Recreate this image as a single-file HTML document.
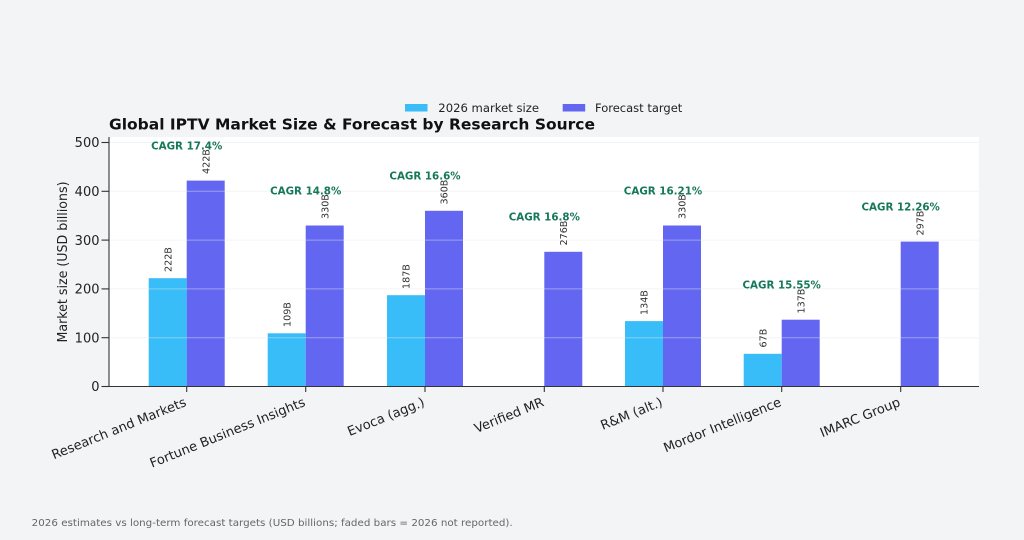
<!DOCTYPE html>
<html><head><meta charset="utf-8"><style>
html,body{margin:0;padding:0;background:#f3f4f6;}
svg{display:block;font-family:"DejaVu Sans","Liberation Sans",sans-serif;}
</style></head><body>
<svg width="1024" height="540" viewBox="0 0 1024 540" xmlns="http://www.w3.org/2000/svg">
<rect x="0" y="0" width="1024" height="540" fill="#f3f4f6"/>
<!-- plot panel -->
<rect x="109" y="137" width="870" height="249.5" fill="#ffffff"/>

<!-- bars: 2026 -->
<g fill="#38bdf8">
<rect x="148.7" y="278.2" width="38" height="108.3"/>
<rect x="267.7" y="333.3" width="38" height="53.2"/>
<rect x="387" y="295.2" width="38" height="91.3"/>
<rect x="625" y="321.1" width="38" height="65.4"/>
<rect x="743.7" y="353.8" width="38" height="32.7"/>
</g>
<!-- bars: forecast -->
<g fill="#6366f1">
<rect x="186.7" y="180.6" width="38" height="205.9"/>
<rect x="305.7" y="225.5" width="38" height="161"/>
<rect x="425" y="210.8" width="38" height="175.7"/>
<rect x="544.3" y="251.8" width="38" height="134.7"/>
<rect x="663" y="225.5" width="38" height="161"/>
<rect x="781.7" y="319.7" width="38" height="66.8"/>
<rect x="900.7" y="241.6" width="38" height="144.9"/>
</g>

<!-- grid lines -->
<g stroke="#e5e7eb" stroke-opacity="0.45" stroke-width="1">
<line x1="109" y1="337.7" x2="979" y2="337.7"/>
<line x1="109" y1="288.9" x2="979" y2="288.9"/>
<line x1="109" y1="240.1" x2="979" y2="240.1"/>
<line x1="109" y1="191.3" x2="979" y2="191.3"/>
<line x1="109" y1="142.5" x2="979" y2="142.5"/>
</g>

<!-- spines -->
<g stroke="#333" stroke-width="1.1">
<line x1="109" y1="137" x2="109" y2="386.5"/>
<line x1="109" y1="386.5" x2="979" y2="386.5"/>
<!-- y ticks -->
<line x1="101.5" y1="386.5" x2="109" y2="386.5"/>
<line x1="101.5" y1="337.7" x2="109" y2="337.7"/>
<line x1="101.5" y1="288.9" x2="109" y2="288.9"/>
<line x1="101.5" y1="240.1" x2="109" y2="240.1"/>
<line x1="101.5" y1="191.3" x2="109" y2="191.3"/>
<line x1="101.5" y1="142.5" x2="109" y2="142.5"/>
<!-- x ticks -->
<line x1="186.7" y1="386.5" x2="186.7" y2="392"/>
<line x1="305.7" y1="386.5" x2="305.7" y2="392"/>
<line x1="425" y1="386.5" x2="425" y2="392"/>
<line x1="544.3" y1="386.5" x2="544.3" y2="392"/>
<line x1="663" y1="386.5" x2="663" y2="392"/>
<line x1="781.7" y1="386.5" x2="781.7" y2="392"/>
<line x1="900.7" y1="386.5" x2="900.7" y2="392"/>
</g>

<!-- y tick labels -->
<g font-size="13" fill="#222" text-anchor="end">
<text x="99.5" y="391.2">0</text>
<text x="99.5" y="342.4">100</text>
<text x="99.5" y="293.6">200</text>
<text x="99.5" y="244.8">300</text>
<text x="99.5" y="196">400</text>
<text x="99.5" y="147.2">500</text>
</g>

<!-- y axis label -->
<text x="67" y="262" font-size="13" fill="#222" text-anchor="middle" transform="rotate(-90 67 262)" textLength="161" lengthAdjust="spacingAndGlyphs">Market size (USD billions)</text>

<!-- x tick labels -->
<g font-size="13" fill="#222" text-anchor="end">
<text x="187.2" y="405.5" transform="rotate(-22 187.2 405.5)">Research and Markets</text>
<text x="306.2" y="405.5" transform="rotate(-22 306.2 405.5)">Fortune Business Insights</text>
<text x="425.5" y="405.5" transform="rotate(-22 425.5 405.5)">Evoca (agg.)</text>
<text x="544.8" y="405.5" transform="rotate(-22 544.8 405.5)">Verified MR</text>
<text x="663.5" y="405.5" transform="rotate(-22 663.5 405.5)">R&amp;M (alt.)</text>
<text x="782.2" y="405.5" transform="rotate(-22 782.2 405.5)">Mordor Intelligence</text>
<text x="901.2" y="405.5" transform="rotate(-22 901.2 405.5)">IMARC Group</text>
</g>

<!-- value labels -->
<g font-size="9.6" fill="#333">
<text x="171.3" y="272" transform="rotate(-90 171.3 272)">222B</text>
<text x="209.3" y="174" transform="rotate(-90 209.3 174)">422B</text>
<text x="290.3" y="327" transform="rotate(-90 290.3 327)">109B</text>
<text x="328.3" y="219" transform="rotate(-90 328.3 219)">330B</text>
<text x="409.6" y="289" transform="rotate(-90 409.6 289)">187B</text>
<text x="447.6" y="204.5" transform="rotate(-90 447.6 204.5)">360B</text>
<text x="566.9" y="245.5" transform="rotate(-90 566.9 245.5)">276B</text>
<text x="647.6" y="315" transform="rotate(-90 647.6 315)">134B</text>
<text x="685.6" y="219" transform="rotate(-90 685.6 219)">330B</text>
<text x="766.3" y="347.5" transform="rotate(-90 766.3 347.5)">67B</text>
<text x="804.3" y="313.5" transform="rotate(-90 804.3 313.5)">137B</text>
<text x="923.3" y="235.5" transform="rotate(-90 923.3 235.5)">297B</text>
</g>

<!-- CAGR labels -->
<g font-size="10.3" font-weight="bold" fill="#16785a" text-anchor="middle">
<text x="186.7" y="149.4">CAGR 17.4%</text>
<text x="305.7" y="194.3">CAGR 14.8%</text>
<text x="425" y="179.6">CAGR 16.6%</text>
<text x="544.3" y="220.6">CAGR 16.8%</text>
<text x="663" y="194.3">CAGR 16.21%</text>
<text x="781.7" y="288.5">CAGR 15.55%</text>
<text x="900.7" y="210.4">CAGR 12.26%</text>
</g>

<!-- title -->
<text x="109" y="129.5" font-size="15.5" font-weight="bold" fill="#111" textLength="486" lengthAdjust="spacingAndGlyphs">Global IPTV Market Size &amp; Forecast by Research Source</text>

<!-- legend -->
<rect x="405" y="104" width="22.5" height="7.5" fill="#38bdf8"/>
<text x="438.3" y="112" font-size="11.6" fill="#222" textLength="100.7" lengthAdjust="spacingAndGlyphs">2026 market size</text>
<rect x="562.7" y="104" width="22.5" height="7.5" fill="#6366f1"/>
<text x="595" y="112" font-size="11.6" fill="#222" textLength="87.3" lengthAdjust="spacingAndGlyphs">Forecast target</text>

<!-- footer -->
<text x="31.7" y="526" font-size="9.8" fill="#666" textLength="481" lengthAdjust="spacingAndGlyphs">2026 estimates vs long-term forecast targets (USD billions; faded bars = 2026 not reported).</text>
</svg>
</body></html>
